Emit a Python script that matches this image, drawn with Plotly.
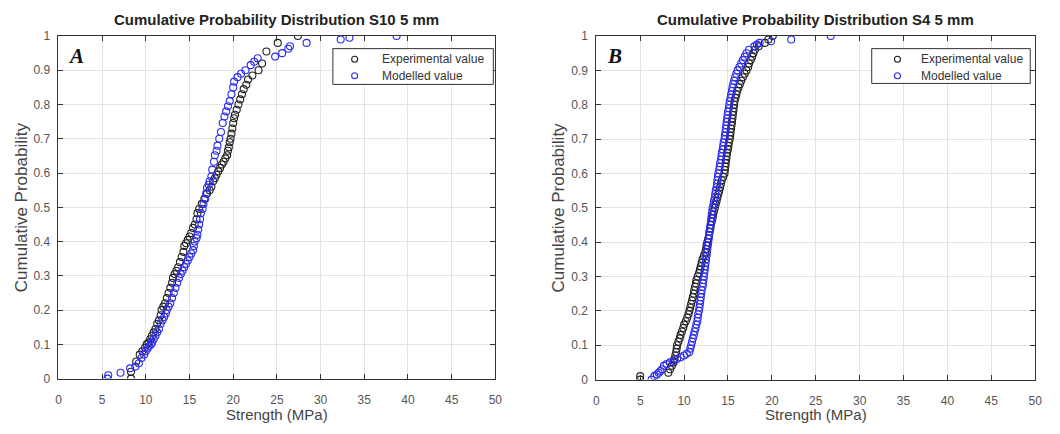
import plotly.graph_objects as go

# ---------------- data ----------------
# Panel A: S10 5 mm
expA_x = [8.3, 8.3, 8.9, 9.3, 9.6, 9.9, 10.1, 10.3, 10.5, 10.7,
          10.9, 11.1, 11.3, 11.5, 11.7, 11.8, 12.0, 12.2, 12.4, 12.6,
          12.8, 13.0, 13.1, 13.3, 13.5, 13.7, 13.9, 14.1, 14.3, 14.4,
          14.6, 14.8, 15.0, 15.2, 15.4, 15.6, 15.8, 15.9, 16.1, 16.4,
          16.7, 17.0, 17.3, 17.5, 17.7, 17.9, 18.1, 18.3, 18.5, 18.7,
          18.9, 19.1, 19.3, 19.4, 19.5, 19.6, 19.7, 19.8, 19.9, 20.0,
          20.1, 20.2, 20.4, 20.6, 20.8, 21.0, 21.2, 21.5, 21.7, 22.2,
          22.9, 23.3, 23.8, 25.1, 27.4]
expA_y = [0.00, 0.02, 0.05, 0.07, 0.08, 0.09, 0.10, 0.105, 0.115, 0.125,
          0.135, 0.145, 0.16, 0.17, 0.185, 0.20, 0.21, 0.22, 0.235, 0.25,
          0.265, 0.28, 0.294, 0.305, 0.315, 0.325, 0.34, 0.355, 0.37, 0.387,
          0.395, 0.405, 0.415, 0.425, 0.44, 0.45, 0.465, 0.483, 0.495, 0.51,
          0.525, 0.54, 0.55, 0.56, 0.576, 0.585, 0.595, 0.605, 0.615, 0.625,
          0.633, 0.643, 0.652, 0.665, 0.675, 0.69, 0.70, 0.715, 0.73, 0.746,
          0.76, 0.77, 0.785, 0.80, 0.815, 0.83, 0.845, 0.858, 0.873, 0.885,
          0.90, 0.92, 0.955, 0.98, 1.00]
modA_x = [5.6, 5.7, 7.1, 8.2, 8.8, 9.2, 9.5, 9.8, 10.0, 10.2,
          10.4, 10.6, 10.7, 10.9, 11.1, 11.3, 11.5, 11.7, 11.9, 12.1,
          12.3, 12.4, 12.6, 12.8, 13.0, 13.2, 13.4, 13.6, 13.8, 14.0,
          14.2, 14.4, 14.6, 14.8, 15.0, 15.2, 15.4, 15.5, 15.6, 15.8,
          15.9, 16.0, 16.1, 16.2, 16.3, 16.5, 16.6, 16.8, 16.9, 17.0,
          17.2, 17.3, 17.5, 17.6, 17.8, 17.9, 18.1, 18.2, 18.4, 18.6,
          18.8, 19.0, 19.2, 19.4, 19.6, 19.8, 20.0, 20.1, 20.5, 20.9,
          21.4, 22.0, 22.4, 22.8, 24.8, 25.6, 26.3, 26.5, 28.4, 32.3,
          33.3, 38.7]
modA_y = [0.00, 0.01, 0.017, 0.03, 0.035, 0.045, 0.06, 0.07, 0.08, 0.088,
          0.095, 0.10, 0.105, 0.115, 0.125, 0.135, 0.145, 0.16, 0.17, 0.18,
          0.19, 0.20, 0.21, 0.22, 0.235, 0.25, 0.265, 0.28, 0.294, 0.305,
          0.315, 0.325, 0.335, 0.345, 0.355, 0.365, 0.375, 0.387, 0.40, 0.41,
          0.42, 0.435, 0.45, 0.465, 0.483, 0.495, 0.51, 0.525, 0.54, 0.557,
          0.566, 0.576, 0.59, 0.61, 0.633, 0.652, 0.665, 0.68, 0.70, 0.72,
          0.746, 0.765, 0.78, 0.795, 0.81, 0.83, 0.85, 0.867, 0.88, 0.89,
          0.90, 0.915, 0.925, 0.935, 0.94, 0.95, 0.963, 0.97, 0.98, 0.99,
          0.995, 1.00]

# Panel B: S4 5 mm
expB_x = [5.0, 5.0, 8.2, 8.4, 8.6, 8.8, 8.9, 9.0, 9.1, 9.15,
          9.2, 9.35, 9.5, 9.6, 9.75, 9.9, 10.0, 10.2, 10.35, 10.5,
          10.6, 10.7, 10.8, 10.9, 11.0, 11.1, 11.15, 11.25, 11.35, 11.4,
          11.55, 11.7, 11.8, 11.9, 12.0, 12.1, 12.25, 12.4, 12.5, 12.55,
          12.65, 12.75, 12.85, 12.9, 13.0, 13.05, 13.15, 13.25, 13.3, 13.4,
          13.5, 13.6, 13.7, 13.8, 13.9, 14.0, 14.1, 14.2, 14.3, 14.45,
          14.6, 14.65, 14.7, 14.75, 14.8, 14.85, 14.9, 15.0, 15.05, 15.1,
          15.2, 15.25, 15.3, 15.35, 15.4, 15.45, 15.5, 15.55, 15.6, 15.65,
          15.7, 15.75, 15.85, 15.95, 16.05, 16.2, 16.35, 16.5, 16.7, 16.9,
          17.1, 17.3, 17.4, 17.6, 17.75, 17.9, 18.05, 18.5, 19.2, 19.6,
          20.1]
expB_y = [0.00, 0.01, 0.02, 0.03, 0.04, 0.05, 0.06, 0.07, 0.08, 0.09,
          0.10, 0.11, 0.12, 0.13, 0.14, 0.15, 0.16, 0.17, 0.18, 0.19,
          0.20, 0.21, 0.22, 0.23, 0.24, 0.25, 0.26, 0.27, 0.28, 0.29,
          0.30, 0.31, 0.32, 0.33, 0.34, 0.35, 0.36, 0.37, 0.38, 0.39,
          0.40, 0.41, 0.42, 0.43, 0.44, 0.45, 0.46, 0.47, 0.48, 0.49,
          0.50, 0.51, 0.52, 0.53, 0.54, 0.55, 0.56, 0.57, 0.58, 0.59,
          0.60, 0.61, 0.62, 0.63, 0.64, 0.65, 0.66, 0.67, 0.68, 0.69,
          0.70, 0.71, 0.72, 0.73, 0.74, 0.75, 0.76, 0.77, 0.78, 0.79,
          0.80, 0.81, 0.82, 0.83, 0.84, 0.85, 0.86, 0.87, 0.88, 0.89,
          0.90, 0.91, 0.92, 0.93, 0.94, 0.95, 0.96, 0.97, 0.98, 0.99,
          1.00]
modB_x = [6.3, 6.6, 6.9, 7.1, 7.3, 7.5, 7.7, 8.0, 8.4, 8.8,
          9.2, 9.6, 10.0, 10.3, 10.6, 10.7, 10.8, 10.9, 11.0, 11.1,
          11.2, 11.3, 11.4, 11.5, 11.55, 11.6, 11.7, 11.75, 11.8, 11.85,
          11.9, 11.95, 12.0, 12.1, 12.15, 12.2, 12.25, 12.3, 12.35, 12.4,
          12.45, 12.5, 12.55, 12.6, 12.65, 12.7, 12.75, 12.8, 12.85, 12.9,
          12.95, 13.0, 13.05, 13.1, 13.15, 13.2, 13.25, 13.35, 13.4, 13.5,
          13.55, 13.6, 13.7, 13.75, 13.8, 13.85, 13.9, 14.0, 14.05, 14.1,
          14.2, 14.25, 14.3, 14.4, 14.45, 14.5, 14.6, 14.65, 14.7, 14.75,
          14.8, 14.85, 14.9, 14.95, 15.0, 15.1, 15.15, 15.2, 15.3, 15.35,
          15.45, 15.5, 15.6, 15.7, 15.8, 15.95, 16.1, 16.3, 16.5, 16.7,
          16.9, 17.1, 17.4, 18.0, 18.3, 18.6, 19.9, 22.2, 26.7]
modB_y = [0.00, 0.01, 0.015, 0.02, 0.025, 0.03, 0.04, 0.045, 0.05, 0.055,
          0.06, 0.065, 0.07, 0.075, 0.08, 0.09, 0.10, 0.11, 0.12, 0.13,
          0.14, 0.15, 0.16, 0.17, 0.18, 0.19, 0.20, 0.21, 0.22, 0.23,
          0.24, 0.25, 0.26, 0.27, 0.28, 0.29, 0.30, 0.31, 0.32, 0.33,
          0.34, 0.35, 0.36, 0.37, 0.38, 0.39, 0.40, 0.41, 0.42, 0.43,
          0.44, 0.45, 0.46, 0.47, 0.48, 0.49, 0.50, 0.51, 0.52, 0.53,
          0.54, 0.55, 0.56, 0.57, 0.58, 0.59, 0.60, 0.61, 0.62, 0.63,
          0.64, 0.65, 0.66, 0.67, 0.68, 0.69, 0.70, 0.71, 0.72, 0.73,
          0.74, 0.75, 0.76, 0.77, 0.78, 0.79, 0.80, 0.81, 0.82, 0.83,
          0.84, 0.85, 0.86, 0.87, 0.88, 0.89, 0.90, 0.91, 0.92, 0.93,
          0.94, 0.95, 0.96, 0.97, 0.975, 0.98, 0.985, 0.99, 1.00]

titles = ["Cumulative Probability Distribution S10 5 mm",
          "Cumulative Probability Distribution S4 5 mm"]
panel_letters = ["A", "B"]
series_names = ["Experimental value", "Modelled value"]
x_title = "Strength (MPa)"
y_title = "Cumulative Probability"

# ---------------- figure ----------------
W, H = 1060, 434
FONT = "Liberation Sans, Arial, sans-serif"
BLACK = "#222222"
BLUE = "#2b2bf0"

fig = go.Figure()

def marker(color, size=7):
    return dict(symbol="circle-open", size=size, color=color,
                line=dict(width=1.1, color=color))

fig.add_trace(go.Scatter(x=expA_x, y=expA_y, mode="markers", name=series_names[0],
                         marker=marker(BLACK), xaxis="x", yaxis="y", showlegend=False))
fig.add_trace(go.Scatter(x=modA_x, y=modA_y, mode="markers", name=series_names[1],
                         marker=marker(BLUE), xaxis="x", yaxis="y", showlegend=False))
fig.add_trace(go.Scatter(x=expB_x, y=expB_y, mode="markers", name=series_names[0],
                         marker=marker(BLACK), xaxis="x2", yaxis="y2", showlegend=False))
fig.add_trace(go.Scatter(x=modB_x, y=modB_y, mode="markers", name=series_names[1],
                         marker=marker(BLUE), xaxis="x2", yaxis="y2", showlegend=False))

# pixel geometry of the two plot areas
pA = dict(l=56, r=497, t=30, b=384)
pB = dict(l=599, r=1042, t=30, b=385)
# legend boxes (pixels)
legA = dict(x0=333, x1=495, y0=43, y1=80, mx=355, tx=381)
legB = dict(x0=877, x1=1037, y0=43, y1=79, mx=903, tx=925)
leg_rows = [54, 71]

def dom_x(p):
    return [p["l"] / W, p["r"] / W]

def dom_y(p):
    return [1 - p["b"] / H, 1 - p["t"] / H]

axis_common = dict(showgrid=True, gridcolor="#e3e3e3", gridwidth=1,
                   showline=True, linecolor="#333333", linewidth=1, mirror="ticks",
                   ticks="inside", ticklen=5, tickcolor="#333333",
                   tickfont=dict(family=FONT, size=12, color="#555555"),
                   zeroline=False, fixedrange=True)

fig.update_layout(
    width=W, height=H, margin=dict(l=0, r=0, t=0, b=0),
    paper_bgcolor="white", plot_bgcolor="rgba(0,0,0,0)",
    showlegend=False,
    xaxis=dict(domain=dom_x(pA), range=[0, 50], dtick=5, anchor="y",
               ticklabelstandoff=10, **axis_common),
    yaxis=dict(domain=dom_y(pA), range=[0, 1], dtick=0.1, anchor="x",
               ticklabelstandoff=5, **axis_common),
    xaxis2=dict(domain=dom_x(pB), range=[0, 50], dtick=5, anchor="y2",
                ticklabelstandoff=10, **axis_common),
    yaxis2=dict(domain=dom_y(pB), range=[0, 1], dtick=0.1, anchor="x2",
                ticklabelstandoff=5, **axis_common),
    # full-page overlay axes (pixel units) used only for the legend keys
    xaxis3=dict(domain=[0, 1], range=[0, W], visible=False, anchor="y3", fixedrange=True),
    yaxis3=dict(domain=[0, 1], range=[H, 0], visible=False, anchor="x3", fixedrange=True),
)

shapes = []
annotations = []
for leg in (legA, legB):
    shapes.append(dict(type="rect", xref="x3", yref="y3", layer="below",
                       x0=leg["x0"], x1=leg["x1"], y0=leg["y0"], y1=leg["y1"],
                       fillcolor="white", line=dict(color="#333333", width=1)))
    for name, color, ry in [(series_names[0], BLACK, leg_rows[0]),
                            (series_names[1], BLUE, leg_rows[1])]:
        fig.add_trace(go.Scatter(x=[leg["mx"]], y=[ry], mode="markers",
                                 marker=marker(color, 6), xaxis="x3", yaxis="y3",
                                 hoverinfo="skip", showlegend=False))
        annotations.append(dict(x=leg["tx"] / W, y=1 - ry / H, xref="paper", yref="paper",
                                showarrow=False, text=name, xanchor="left",
                                yanchor="middle",
                                font=dict(family=FONT, size=12, color="#333333")))

for p, title, letter in [(pA, titles[0], panel_letters[0]), (pB, titles[1], panel_letters[1])]:
    cx = (p["l"] + p["r"]) / 2 / W
    cy = 1 - (p["t"] + p["b"]) / 2 / H
    annotations.append(dict(x=cx, y=1 - 13 / H, xref="paper", yref="paper", showarrow=False,
                            text="<b>" + title + "</b>", xanchor="center", yanchor="middle",
                            font=dict(family=FONT, size=15, color="#222222")))
    annotations.append(dict(x=cx, y=1 - 421 / H, xref="paper", yref="paper", showarrow=False,
                            text=x_title, xanchor="center", yanchor="middle",
                            font=dict(family=FONT, size=15, color="#444444")))
    annotations.append(dict(x=(p["l"] - 38) / W, y=cy, xref="paper", yref="paper",
                            showarrow=False, text=y_title, textangle=-90,
                            xanchor="center", yanchor="middle",
                            font=dict(family=FONT, size=17, color="#444444")))
    annotations.append(dict(x=(p["l"] + 18) / W, y=1 - 51 / H, xref="paper", yref="paper",
                            showarrow=False, text="<b><i>" + letter + "</i></b>",
                            xanchor="center", yanchor="middle",
                            font=dict(family="Liberation Serif, Times New Roman, serif",
                                      size=21, color="#111111")))

fig.update_layout(shapes=shapes, annotations=annotations)

fig.write_html("out.html")
